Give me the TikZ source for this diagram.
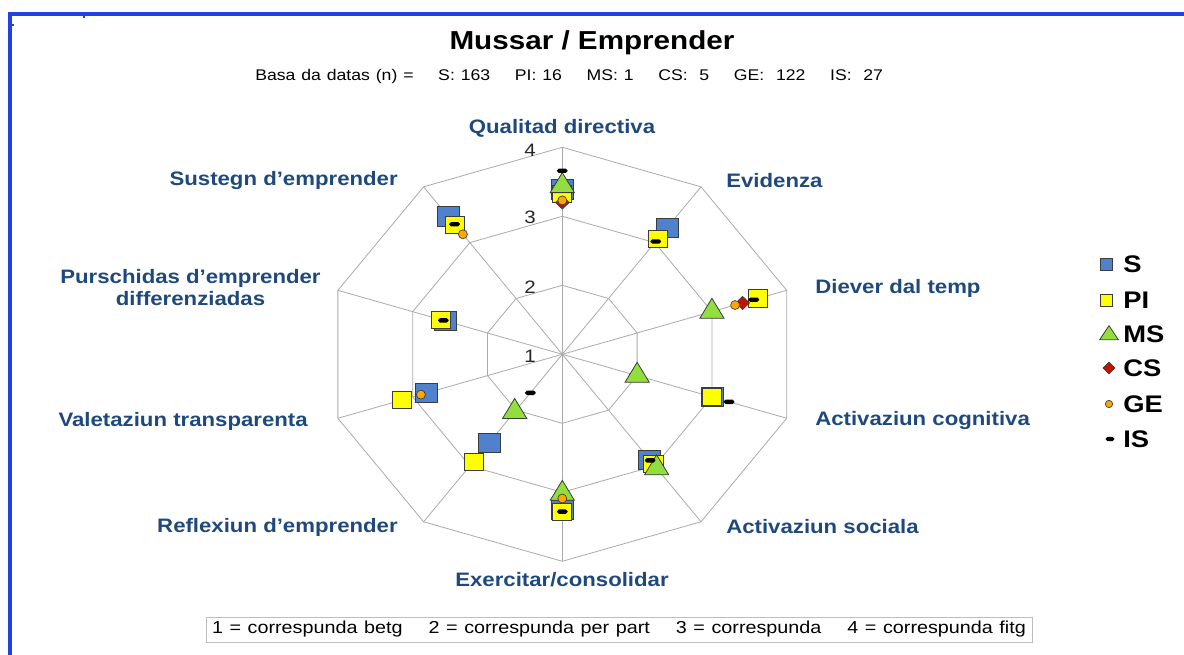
\documentclass[tikz,border=0pt]{standalone}
\usepackage{fontspec}
\setmainfont{Liberation Sans}
\usetikzlibrary{shapes.geometric}

\definecolor{labelblue}{RGB}{31,73,125}
\definecolor{frameblue}{RGB}{32,64,232}
\definecolor{gridgray}{RGB}{170,170,170}
\definecolor{keygray}{RGB}{190,190,190}
\definecolor{markeredge}{RGB}{60,60,60}
\definecolor{sblue}{RGB}{79,129,205}
\definecolor{piyellow}{RGB}{255,255,0}
\definecolor{msgreen}{RGB}{146,222,62}
\definecolor{csred}{RGB}{196,20,0}
\definecolor{georange}{RGB}{255,168,0}

\begin{document}
\begin{tikzpicture}[x=0.75pt,y=-0.75pt,
  stretched/.style={xscale=1.14},
  titletext/.style={stretched,inner sep=0pt,font=\bfseries\fontsize{19.5}{22}\selectfont},
  subtext/.style={stretched,inner sep=0pt,font=\fontsize{11.6}{14}\selectfont},
  axislabel/.style={stretched,inner sep=0pt,text=labelblue,font=\bfseries\fontsize{14.6}{16.5}\selectfont},
  scalelabel/.style={stretched,inner sep=0pt,text=black!85,font=\fontsize{13.5}{16}\selectfont},
  legendtext/.style={stretched,inner sep=0pt,font=\bfseries\fontsize{18}{20}\selectfont},
  keybox/.style={stretched,draw=keygray,line width=0.6pt,inner xsep=4pt,inner ysep=0pt,minimum height=18.75pt,text width=535.5pt,align=left,font=\fontsize{13}{15}\selectfont},
  gridline/.style={draw=gridgray,line width=0.6pt},
  smark/.style={rectangle,draw=markeredge,fill=sblue,line width=0.6pt,minimum width=16.5pt,minimum height=14.3pt,inner sep=0pt},
  pimark/.style={rectangle,draw=markeredge,fill=piyellow,line width=0.6pt,minimum width=14.3pt,minimum height=12.8pt,inner sep=0pt},
  msmark/.style={regular polygon,regular polygon sides=3,draw=markeredge,fill=msgreen,line width=0.6pt,minimum size=20pt,inner sep=0pt,xscale=1.05},
  csmark/.style={diamond,draw=markeredge,fill=csred,line width=0.5pt,minimum width=10.5pt,minimum height=10pt,inner sep=0pt},
  gemark/.style={circle,draw=markeredge,fill=georange,line width=0.5pt,minimum size=6.75pt,inner sep=0pt},
  ismark/.style={rectangle,rounded corners=1.4pt,fill=black,minimum width=8pt,minimum height=3.3pt,inner sep=0pt}]
\useasboundingbox (0,0) rectangle (1184,655);

% Frame
\draw[frameblue,line width=2.5pt] (10,655) -- (10,14) -- (1184,14);
\draw[frameblue,line width=0.8pt] (84,14) -- (84,18);
\draw[frameblue,line width=0.8pt] (10,25) -- (14,25);

% Title
\node[titletext] (title) at (592,43) {Mussar / Emprender};
\node[subtext,anchor=west,text width=413pt,align=left] (base) at (255,77) {Basa da datas (n) =\hfill S: 163\hfill PI: 16\hfill MS: 1\hfill CS:\ \ 5\hfill GE:\ \ 122\hfill IS:\ \ 27};

% Radar grid and data
\begin{scope}[shift={(562.3,354.3)},xscale=1.14]
\coordinate (ctr) at (0,0);
\foreach \r in {69,138,207}
  \draw[gridline] ({-90}:\r) \foreach \k in {1,...,9} {-- ({-90+36*\k}:\r)} -- cycle;
\foreach \k in {0,...,9}
  \draw[gridline] (ctr) -- ({-90+36*\k}:207);

% S
\foreach \k/\v in {0/3.39,1/3.27,3/3.0,4/2.89,5/3.26,6/2.58,7/2.82,8/2.56,9/3.47}
  \node[smark] (S-\k) at ({-90+36*\k}:{(\v-1)*69}) {};
% PI
\foreach \k/\v in {0/3.32,1/3.06,2/3.62,3/3.0,4/2.97,5/3.28,6/2.92,7/3.15,8/2.62,9/3.32}
  \node[pimark] (PI-\k) at ({-90+36*\k}:{(\v-1)*69}) {};
% MS
\foreach \k/\v in {0/3.44,2/3.0,3/2.0,4/3.04,5/3.02,6/2.03}
  \node[msmark] (MS-\k) at ({-90+36*\k}:{(\v-1)*69}) {};
% CS
\foreach \k/\v in {0/3.2,2/3.41}
  \node[csmark] (CS-\k) at ({-90+36*\k}:{(\v-1)*69}) {};
% GE
\foreach \k/\v in {0/3.23,2/3.31,5/3.09,7/2.89,9/3.15}
  \node[gemark] (GE-\k) at ({-90+36*\k}:{(\v-1)*69}) {};
% IS
\foreach \k/\v in {0/3.66,1/3.02,2/3.56,3/3.23,4/2.9,5/3.28,6/1.69,8/2.59,9/3.33}
  \node[ismark] (IS-\k) at ({-90+36*\k}:{(\v-1)*69}) {};
\end{scope}

% Scale
\node[scalelabel] (lev4) at (530,150) {4};
\node[scalelabel] (lev3) at (530,217) {3};
\node[scalelabel] (lev2) at (530,287) {2};
\node[scalelabel] (lev1) at (530,356) {1};

% Axis labels
\node[axislabel] (qd) at (562,128) {Qualitad directiva};
\node[axislabel,anchor=west] (ev) at (726,181) {Evidenza};
\node[axislabel,anchor=west] (dt) at (815,288) {Diever dal temp};
\node[axislabel,anchor=west] (ac) at (815,421) {Activaziun cognitiva};
\node[axislabel,anchor=west] (as) at (726,527) {Activaziun sociala};
\node[axislabel] (ec) at (562,580) {Exercitar/consolidar};
\node[axislabel,anchor=east] (re) at (398,527) {Reflexiun d’emprender};
\node[axislabel,anchor=east] (vt) at (308,421) {Valetaziun transparenta};
\node[axislabel,align=center] (pd) at (190.5,288) {Purschidas d’emprender\\differenziadas};
\node[axislabel,anchor=east] (se) at (398,181) {Sustegn d’emprender};

% Legend
\node[smark,minimum width=9pt,minimum height=9pt] (lgS) at (1106,264) {};
\node[pimark,minimum width=9pt,minimum height=9pt] (lgPI) at (1106,300) {};
\node[msmark,minimum size=14pt,xscale=1.1] (lgMS) at (1109,335) {};
\node[csmark,minimum width=9pt,minimum height=9pt] (lgCS) at (1109,368) {};
\node[gemark,minimum size=5.5pt] (lgGE) at (1109,404) {};
\node[ismark,minimum width=6.5pt,minimum height=3.2pt] (lgIS) at (1110,439) {};
\node[legendtext,anchor=west] (lgSt) at (1123,264) {S};
\node[legendtext,anchor=west] (lgPIt) at (1123,300) {PI};
\node[legendtext,anchor=west] (lgMSt) at (1123,334) {MS};
\node[legendtext,anchor=west] (lgCSt) at (1123,368) {CS};
\node[legendtext,anchor=west] (lgGEt) at (1123,404) {GE};
\node[legendtext,anchor=west] (lgISt) at (1123,439) {IS};

% Key
\node[keybox] (key) at (619,629.5) {1 = correspunda betg\hfill 2 = correspunda per part\hfill 3 = correspunda\hfill 4 = correspunda fitg};
\end{tikzpicture}
\end{document}
